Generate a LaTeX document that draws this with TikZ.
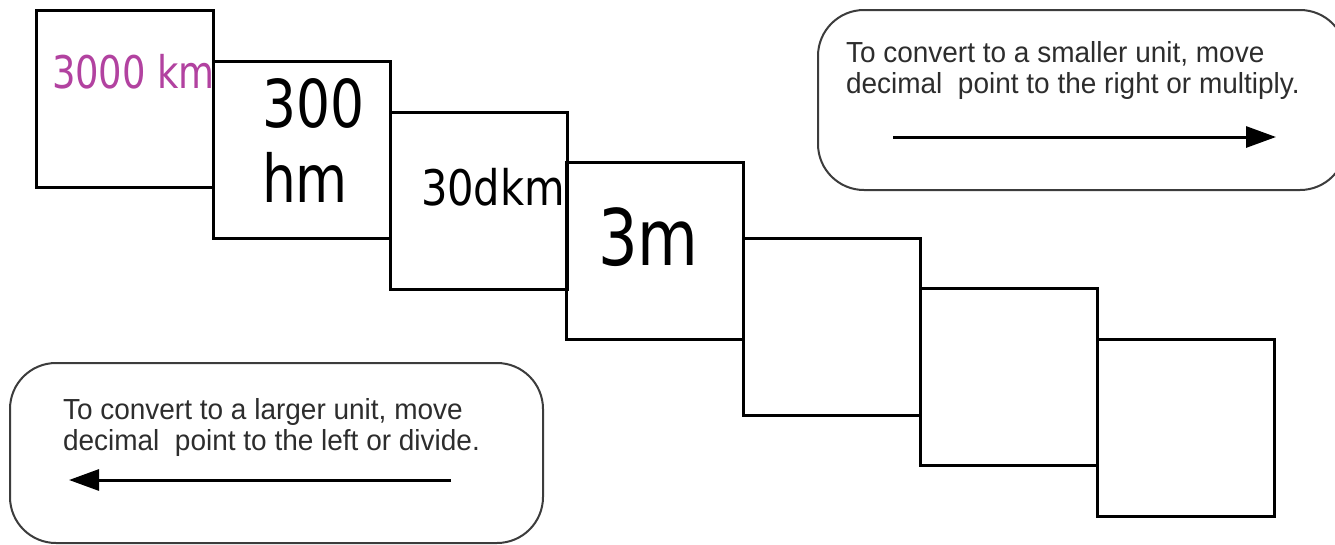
\documentclass[tikz,border=0pt]{standalone}
\usepackage{fontspec}
\usetikzlibrary{arrows.meta}
\newfontfamily\dvs{DejaVu Sans}
\newfontfamily\lib{Liberation Sans}
\definecolor{kmpurple}{RGB}{178,66,160}
\definecolor{notegray}{RGB}{45,45,45}
\definecolor{bordergray}{RGB}{60,60,60}
\tikzset{
  unitbox/.style={draw=black, line width=3pt, minimum width=177pt, minimum height=177pt, inner sep=0pt, outer sep=0pt},
  notebox/.style={draw=bordergray, line width=2pt, rounded corners=46pt, minimum height=180pt, inner sep=0pt, outer sep=0pt},
  unitlabel/.style={anchor=base west, inner sep=0pt, outer sep=0pt},
  notetext/.style={anchor=base west, inner sep=0pt, outer sep=0pt, text=notegray},
  dirarrow/.style={line width=3pt, -{Triangle[length=30pt,width=21pt]}}
}
\newcommand{\squeeze}[2]{\scalebox{#1}[1]{#2}}
\begin{document}
\begin{tikzpicture}[x=1pt,y=-1pt]
\useasboundingbox (0,0) rectangle (1335,544);
\fill[white] (0,0) rectangle (1335,544);
% unit boxes
\node[unitbox] (b1) at (124.5,98.5) {};
\node[unitbox] (b2) at (301.5,150) {};
\node[unitbox] (b3) at (478.5,200.5) {};
\node[unitbox] (b4) at (655,250.5) {};
\node[unitbox] (b5) at (831.5,327) {};
\node[unitbox] (b6) at (1008.5,377) {};
\node[unitbox] (b7) at (1185.5,427.5) {};
% labels
\node[unitlabel, text=kmpurple] (t1) at (52,88) {\dvs\fontsize{45}{50}\selectfont\squeeze{0.82}{3000 km}};
\node[unitlabel] (t2) at (262,127) {\dvs\fontsize{66}{75}\selectfont\squeeze{0.81}{\begin{tabular}[t]{@{}l@{}}300\\hm\end{tabular}}};
\node[unitlabel] (t3) at (421,205) {\dvs\fontsize{49}{55}\selectfont\squeeze{0.85}{30dkm}};
\node[unitlabel] (t4) at (598,265) {\dvs\fontsize{78}{85}\selectfont\squeeze{0.8}{3m}};
% note boxes
\node[notebox, minimum width=528pt] (n1) at (1082,100) {};
\node[notebox, minimum width=533pt] (n2) at (276.5,453) {};
\node[notetext] (n1t) at (846,62) {\lib\fontsize{29}{31.5}\selectfont\squeeze{0.965}{\begin{tabular}[t]{@{}l@{}}To convert to a smaller unit, move\\decimal\ \ point to the right or multiply.\end{tabular}}};
\node[notetext] (n2t) at (63,419) {\lib\fontsize{29}{31.5}\selectfont\squeeze{0.965}{\begin{tabular}[t]{@{}l@{}}To convert to a larger unit, move\\decimal\ \ point to the left or divide.\end{tabular}}};
% arrows
\coordinate (a1s) at (893,137);
\coordinate (a1e) at (1276,137);
\coordinate (a2s) at (451,480);
\coordinate (a2e) at (69,480);
\draw[dirarrow] (a1s) -- (a1e);
\draw[dirarrow] (a2s) -- (a2e);
\end{tikzpicture}
\end{document}
